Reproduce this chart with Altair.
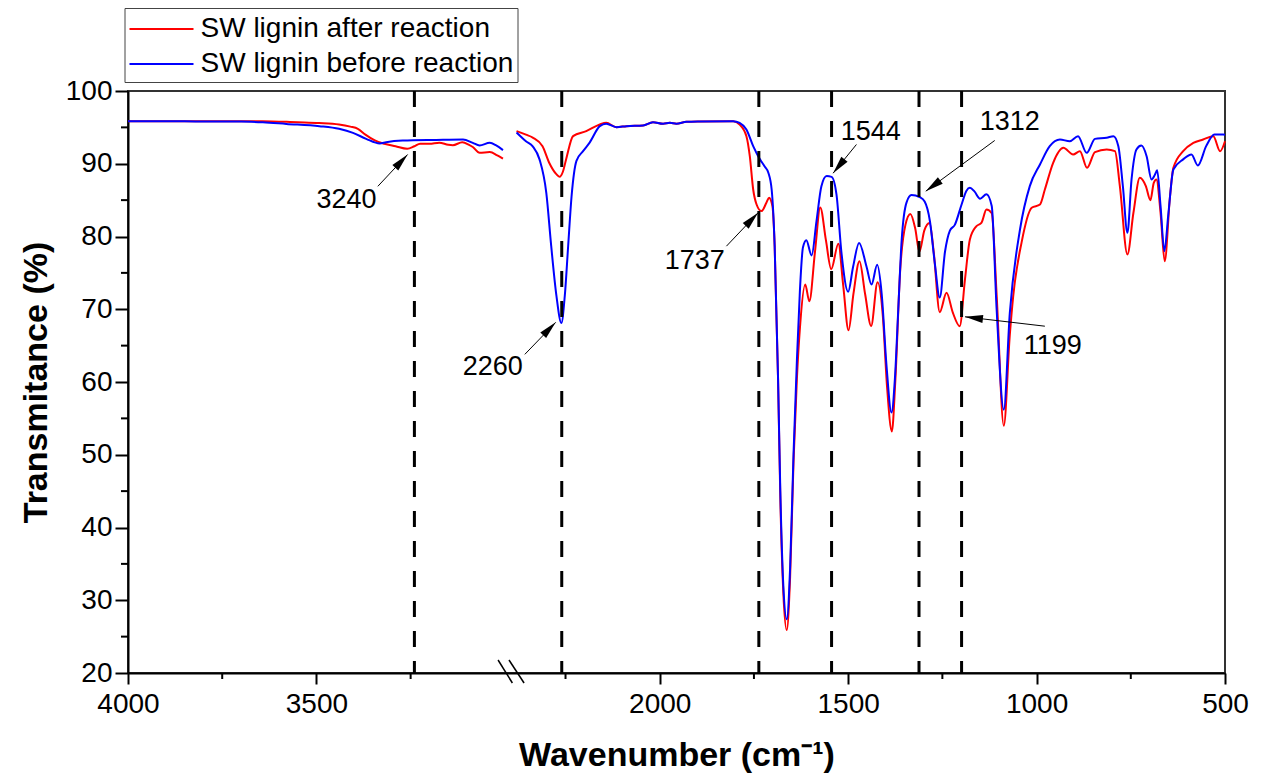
import math
import altair as alt
import pandas as pd

# ---------------- data ----------------
SERIES = ["SW lignin after reaction", "SW lignin before reaction"]
COLORS = ["#ff0000", "#0000ff"]
FONT = "Liberation Sans"

# broken x axis: the 4000-3000 block is drawn shifted by SHIFT on the drawing axis
SHIFT = 589
BREAK_AT = 3000

after_wn = [4000, 3900, 3800, 3700, 3644, 3550, 3493, 3440, 3410, 3390, 3370, 3345, 3320, 3290,
            3259, 3240, 3225, 3200, 3174, 3150, 3138, 3113, 3095, 3085, 3067, 3040, 3020, 3005,
            2380, 2355, 2337, 2311, 2293, 2275, 2266, 2257, 2248, 2230, 2195, 2159, 2142, 2115,
            2088, 2044, 2018, 1991, 1973, 1956, 1929, 1894, 1805, 1788, 1770, 1761, 1752, 1743,
            1730, 1717, 1710, 1701, 1695, 1686, 1680, 1672, 1663, 1654, 1645, 1636, 1628, 1614,
            1603, 1588, 1574, 1559, 1545, 1526, 1513, 1499, 1486, 1470, 1455, 1439, 1422, 1408,
            1397, 1384, 1375, 1362, 1348, 1335, 1322, 1311, 1298, 1284, 1273, 1257, 1239, 1222,
            1204, 1190, 1177, 1160, 1146, 1133, 1119, 1106, 1087, 1071, 1062, 1040, 1013, 991,
            978, 956, 929, 903, 885, 866, 845, 814, 792, 779, 759, 743, 726, 710, 698, 689, 682,
            671, 660, 646, 637, 611, 584, 558, 531, 513, 500]
after_t = [95.85, 95.85, 95.85, 95.85, 95.85, 95.7, 95.6, 95.4, 95.1, 94.8, 94.0, 93.2, 92.75, 92.4,
           92.05, 92.4, 92.75, 92.75, 92.9, 92.6, 92.55, 92.95, 92.6, 92.3, 91.5, 91.6, 91.15, 90.7,
           94.48, 94.0, 93.6, 92.4, 90.1, 88.6, 88.2, 88.9, 90.7, 93.8, 94.48, 95.4, 95.62, 95.03,
           95.17, 95.26, 95.72, 95.49, 95.62, 95.49, 95.76, 95.81, 95.85, 95.4, 93.79, 91.04, 86.46, 84.4,
           83.49, 84.63, 85.32, 84.17, 78.7, 60.4, 44.0, 31.0, 25.9, 33.2, 49.0, 60.5, 67.4, 73.4,
           71.1, 77.9, 84.0, 79.5, 75.5, 79.0, 73.2, 67.1, 72.1, 76.6, 72.1, 67.7, 73.7, 69.1,
           59.5, 53.2, 60.0, 75.3, 81.6, 83.1, 81.1, 77.9, 80.8, 81.85, 77.9, 69.6, 72.26, 69.5,
           67.67, 74.1, 79.6, 81.4, 81.9, 83.7, 83.2, 72.0, 54.0, 66.5, 71.8, 79.13, 83.94, 84.4,
           86.46, 90.13, 92.19, 91.27, 91.73, 89.44, 91.6, 91.96, 91.73, 86.92, 77.53, 83.26, 88.07, 86.92, 84.99, 87.38, 87.84,
           83.26, 76.6, 85.5, 89.44, 91.73, 92.87, 93.33, 93.79, 91.73, 93.1]

before_wn = [4000, 3900, 3800, 3700, 3642, 3580, 3492, 3440, 3403, 3368, 3332, 3315, 3271, 3182,
             3111, 3085, 3067, 3040, 3023, 3005,
             2380, 2355, 2337, 2319, 2301, 2288, 2274, 2261, 2252, 2243, 2234, 2221, 2204, 2186,
             2159, 2142, 2115, 2088, 2044, 2018, 1991, 1973, 1956, 1929, 1894, 1805, 1788, 1770,
             1752, 1734, 1721, 1712, 1703, 1695, 1686, 1680, 1672, 1663, 1654, 1645, 1636, 1628,
             1620, 1611, 1597, 1584, 1571, 1557, 1544, 1531, 1518, 1500, 1487, 1471, 1451, 1438,
             1423, 1411, 1398, 1385, 1376, 1367, 1358, 1345, 1332, 1310, 1297, 1283, 1270, 1257,
             1243, 1230, 1217, 1199, 1186, 1177, 1165, 1150, 1133, 1119, 1106, 1087, 1071, 1044,
             1018, 991, 965, 938, 912, 890, 867, 845, 814, 796, 783, 771, 759, 748, 735, 722, 708,
             695, 686, 680, 671, 661, 650, 637, 611, 589, 572, 550, 528, 505, 500]
before_t = [95.85, 95.85, 95.8, 95.8, 95.7, 95.48, 95.17, 94.8, 94.25, 93.42, 92.78, 92.96, 93.19, 93.28,
            93.33, 92.87, 92.51, 92.87, 92.51, 91.87,
            94.3, 93.1, 92.4, 90.6, 86.0, 78.7, 71.8, 68.1, 71.8, 78.7, 85.5, 90.4, 91.7, 92.9,
            95.17, 95.5, 95.03, 95.17, 95.26, 95.72, 95.49, 95.62, 95.49, 95.76, 95.81, 95.85, 95.62, 94.7,
            92.42, 90.6, 89.6, 88.8, 86.46, 78.7, 60.4, 45.0, 32.0, 27.4, 34.5, 50.0, 63.0, 72.6,
            78.5, 79.5, 77.4, 82.1, 86.9, 88.3, 88.2, 85.8, 77.9, 72.4, 75.8, 79.1, 75.8, 73.4,
            76.1, 72.1, 62.1, 55.8, 60.4, 70.0, 79.5, 84.7, 85.7, 85.4, 84.8, 82.1, 76.3, 71.6,
            77.9, 80.8, 81.6, 84.4, 86.3, 86.7, 86.2, 85.2, 85.8, 84.2, 70.0, 56.2, 69.5, 80.96,
            86.92, 89.9, 92.42, 93.33, 93.1, 93.79, 91.5, 93.42, 93.56, 93.79, 92.42, 86.92, 80.5, 87.84, 91.96, 92.51, 91.04,
            87.84, 88.5, 89.1, 84.17, 77.98, 83.26, 89.21, 90.6, 91.27, 89.76, 92.42, 94.02, 94.02, 94.0]

# marked bands (dashed lines), in wavenumber
peak_wn = [3240, 2260, 1737, 1544, 1312, 1199]

# annotations, on the drawing axis (left block already shifted)
label_text = ["3240", "2260", "1737", "1544", "1312", "1199"]
label_x = [2831, 2443, 1907, 1440, 1071, 957]
label_y = [84.95, 62.0, 76.7, 94.35, 95.74, 65.0]
arrow_from_x = [2748, 2358, 1823, 1478, 1111, 978]
arrow_from_y = [86.9, 63.8, 78.67, 92.65, 93.2, 67.67]
arrow_to_x = [2669, 2276, 1739, 1540, 1294, 1190]
arrow_to_y = [91.27, 68.2, 83.26, 88.7, 86.23, 68.96]

major_x_wn = [4000, 3500, 2000, 1500, 1000, 500]
minor_x_wn = [3750, 3250, 2250, 1750, 1250, 750]
major_y = [20, 30, 40, 50, 60, 70, 80, 90, 100]
minor_y = [25, 35, 45, 55, 65, 75, 85, 95]

# ---------------- layout ----------------
W, H = 1097, 582
X_LEFT = 4000 - SHIFT
X_RIGHT = 500
PXX = W / (X_LEFT - X_RIGHT)
PXY = H / 80.0


def draw_x(wn):
    return wn - SHIFT if wn >= BREAK_AT else wn


def series_frame(name, wns, ts):
    return pd.DataFrame({
        "x": [draw_x(w) for w in wns],
        "T": ts,
        "series": name,
        "part": ["left" if w >= BREAK_AT else "right" for w in wns],
    })


after_df = series_frame(SERIES[0], after_wn, after_t)
before_df = series_frame(SERIES[1], before_wn, before_t)

angles = []
for fx, fy, tx, ty in zip(arrow_from_x, arrow_from_y, arrow_to_x, arrow_to_y):
    dx = (fx - tx) * PXX
    dy = (fy - ty) * PXY
    angles.append(math.degrees(math.atan2(dx, -dy)) % 360)

arrow_df = pd.DataFrame({"x0": arrow_from_x, "y0": arrow_from_y,
                         "x1": arrow_to_x, "y1": arrow_to_y, "angle": angles})
label_df = pd.DataFrame({"x": label_x, "y": label_y, "text": label_text})
peaks_df = pd.DataFrame({"x": [draw_x(w) for w in peak_wn]})
xminor_df = pd.DataFrame({"x": [draw_x(w) for w in minor_x_wn]})
yminor_df = pd.DataFrame({"T": minor_y})
break_df = pd.DataFrame({"xt": [2429, 2400], "xb": [2391, 2360]})

x_scale = alt.Scale(domain=[X_LEFT, X_RIGHT], nice=False, zero=False)
y_scale = alt.Scale(domain=[20, 100], nice=False, zero=False)
color_scale = alt.Scale(domain=SERIES, range=COLORS)

x_axis = alt.Axis(
    values=[draw_x(w) for w in major_x_wn],
    labelExpr=f"datum.value > 2450 ? format(datum.value + {SHIFT}, 'd') : format(datum.value, 'd')",
    title="Wavenumber (cm\u207b\u00b9)",
    tickSize=11, labelPadding=6, titlePadding=20,
    labelFlush=False, labelOverlap=False, grid=False,
)
y_axis = alt.Axis(
    values=major_y, title="Transmitance (%)",
    tickSize=13, labelPadding=3, titlePadding=12, grid=False,
)

legend = alt.Legend(
    title=None, orient="none", legendX=-3.5, legendY=-83, direction="vertical",
    symbolType="M-2,0H2", symbolSize=1024, symbolStrokeWidth=2, symbolOffset=16,
    labelOffset=22, labelFont=FONT, labelFontSize=28, labelColor="black", labelLimit=0,
    padding=4, rowPadding=4, strokeColor="#444444", fillColor="white",
)

X = lambda f: alt.X(f, scale=x_scale, axis=x_axis)
Y = lambda f: alt.Y(f, scale=y_scale, axis=y_axis)

red = alt.Chart(after_df).mark_line(strokeWidth=2, interpolate="monotone").encode(
    x=X("x:Q"), y=Y("T:Q"),
    color=alt.Color("series:N", scale=color_scale, legend=legend),
    detail="part:N",
)
blue = alt.Chart(before_df).mark_line(strokeWidth=2, interpolate="monotone").encode(
    x=X("x:Q"), y=Y("T:Q"),
    color=alt.Color("series:N", scale=color_scale, legend=legend),
    detail="part:N",
)
dashes = alt.Chart(peaks_df).mark_rule(color="black", strokeWidth=3, strokeDash=[16, 14]).encode(
    x=X("x:Q"),
)
arrows = alt.Chart(arrow_df).mark_rule(color="black", strokeWidth=1).encode(
    x=X("x0:Q"), x2="x1:Q", y=Y("y0:Q"), y2="y1:Q",
)
heads = alt.Chart(arrow_df).mark_point(
    shape="M0,0L0.45,2L-0.45,2Z", size=324, filled=True, color="black", opacity=1, strokeWidth=0,
).encode(x=X("x1:Q"), y=Y("y1:Q"), angle=alt.Angle("angle:Q", scale=None))
labels = alt.Chart(label_df).mark_text(font=FONT, fontSize=27, color="black").encode(
    x=X("x:Q"), y=Y("y:Q"), text="text:N",
)
xminor = alt.Chart(xminor_df).mark_rule(color="black", strokeWidth=2).encode(
    x=X("x:Q"), y=alt.value(H), y2=alt.value(H + 6),
)
yminor = alt.Chart(yminor_df).mark_rule(color="black", strokeWidth=2).encode(
    y=Y("T:Q"), x=alt.value(0), x2=alt.value(-7),
)
breaks = alt.Chart(break_df).mark_rule(color="black", strokeWidth=1.5).encode(
    x=X("xt:Q"), x2="xb:Q", y=alt.value(H - 13), y2=alt.value(H + 10),
)

chart = alt.layer(red, blue, dashes, arrows, heads, labels, xminor, yminor, breaks).properties(
    width=W, height=H,
    padding={"left": 128, "top": 91, "right": 51, "bottom": 110},
    autosize=alt.AutoSizeParams(type="none"),
).configure(background="white").configure_view(
    stroke="#333333", strokeWidth=2,
).configure_axis(
    domainColor="black", domainWidth=2, tickColor="black", tickWidth=2,
    labelFont=FONT, labelFontSize=28, labelColor="black",
    titleFont=FONT, titleFontSize=34, titleFontWeight="bold", titleColor="black",
)

chart.save("out.html", embed_options={"renderer": "svg", "actions": False})
